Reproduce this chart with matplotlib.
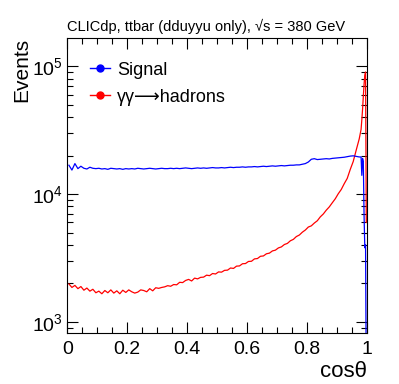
import matplotlib
matplotlib.use("Agg")
import matplotlib.pyplot as plt
import matplotlib.ticker as ticker
import numpy as np

plt.rcParams['font.family'] = ['Liberation Sans', 'DejaVu Sans']
plt.rcParams['mathtext.default'] = 'regular'

# bin edges: 0.01 wide up to 0.98, then 0.0025 wide up to 1
coarse_edges = np.linspace(0.0, 0.98, 99)
fine_edges = np.linspace(0.98, 1.0, 9)[1:]
edges = np.concatenate([coarse_edges, fine_edges])
centres = 0.5 * (edges[:-1] + edges[1:])

signal = [
    16800, 15400, 17300, 15800, 16500, 15900, 15700, 16200, 15900, 15800,
    15900, 15700, 15800, 15600, 15900, 15800, 15700, 15800, 15600, 15800,
    15700, 15800, 15700, 15900, 15800, 15700, 15800, 15900, 15800, 15700,
    15800, 15900, 15800, 15800, 15900, 15800, 15900, 15800, 15900, 16000,
    15900, 15800, 15900, 16000, 15900, 16000, 15900, 16000, 16100, 16000,
    16000, 16100, 16000, 16100, 16200, 16100, 16200, 16200, 16300, 16200,
    16300, 16300, 16400, 16300, 16400, 16500, 16400, 16500, 16600, 16500,
    16600, 16700, 16600, 16700, 16800, 16800, 16900, 16900, 17100, 17300,
    17800, 18700, 18900, 18600, 18700, 18800, 18900, 18800, 19000, 19100,
    19200, 19300, 19400, 19600, 19800, 19900, 19700, 19500,
    19500, 14000, 19000, 18000, 6800, 3800, 4000, 300,
]

gamma = [
    1980, 1860, 1930, 1820, 1890, 1770, 1840, 1740, 1800, 1690,
    1740, 1660, 1760, 1690, 1780, 1680, 1750, 1660, 1770, 1700,
    1780, 1720, 1680, 1710, 1780, 1760, 1720, 1820, 1750, 1850,
    1830, 1860, 1880, 1920, 1900, 1960, 1950, 2040, 2030, 2110,
    2150, 2090, 2200, 2170, 2230, 2240, 2320, 2300, 2390, 2370,
    2460, 2450, 2530, 2540, 2640, 2620, 2730, 2740, 2850, 2860,
    2970, 2980, 3110, 3130, 3260, 3280, 3410, 3450, 3590, 3640,
    3790, 3860, 4030, 4110, 4310, 4420, 4650, 4780, 5030, 5230,
    5520, 5640, 5930, 6180, 6630, 6980, 7480, 7930, 8540, 9180,
    10050, 10850, 12050, 13250, 15550, 17950, 22050, 26950,
    32000, 38000, 46000, 58000, 72000, 85000, 90000, 6000,
]

fig = plt.figure(figsize=(3.99, 3.84), dpi=100)
ax = fig.add_axes([0.169, 0.133, 0.75, 0.768])

ax.plot(centres, gamma, color='#ff0000', linewidth=0.9)
ax.plot(centres, signal, color='#0000ff', linewidth=0.9)

ax.set_yscale('log')
ax.set_xlim(0, 1)
ax.set_ylim(820, 1.66e5)

ax.xaxis.set_major_locator(ticker.MultipleLocator(0.2))
ax.xaxis.set_minor_locator(ticker.MultipleLocator(0.05))
ax.xaxis.set_major_formatter(ticker.FuncFormatter(lambda v, p: '%g' % v))
ax.yaxis.set_major_locator(ticker.LogLocator(base=10))
ax.yaxis.set_minor_locator(ticker.LogLocator(base=10, subs=np.arange(2, 10)))
ax.yaxis.set_minor_formatter(ticker.NullFormatter())

ax.tick_params(which='both', direction='in', top=True, right=True, labelsize=14)
ax.tick_params(which='major', length=8, width=0.8)
ax.tick_params(which='minor', length=4, width=0.8)
ax.tick_params(axis='x', pad=6)
for s in ax.spines.values():
    s.set_linewidth(0.8)

ax.set_xlabel('cosθ', fontsize=16, loc='right', labelpad=2)
ax.set_ylabel('Events', fontsize=15, loc='top', labelpad=0)
ax.set_title('CLICdp, ttbar (dduyyu only), √s = 380 GeV', fontsize=10.5, loc='left', pad=5)

# legend entries (line with marker)
ax.plot([], [], color='#0000ff', marker='o', markersize=5, linewidth=1, label='Signal')
ax.plot([], [], color='#ff0000', marker='o', markersize=5, linewidth=1,
        label='γγ⟶hadrons')
ax.legend(loc='upper left', bbox_to_anchor=(0.02, 0.975), frameon=False, fontsize=13,
          handlelength=1.1, handletextpad=0.4, labelspacing=0.55)

fig.savefig('out.png', dpi=100)
